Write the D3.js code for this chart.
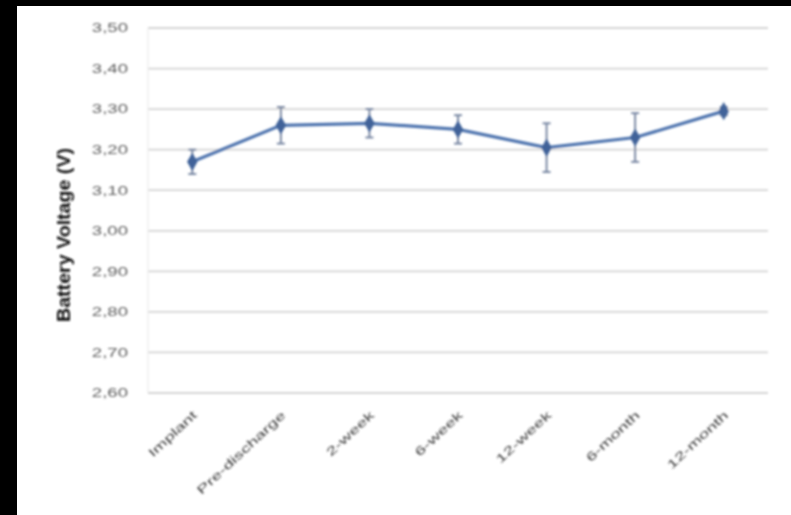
<!DOCTYPE html>
<html>
<head>
<meta charset="utf-8">
<script src="https://cdn.jsdelivr.net/npm/d3@7"></script>
<style>
  html, body { margin: 0; padding: 0; background: #000; }
  svg { display: block; }
</style>
</head>
<body>
<svg id="chart" width="791" height="515"></svg>
<script>
// Battery voltage over follow-up (mean ± SD)
const categories = ["Implant", "Pre-discharge", "2-week", "6-week", "12-week", "6-month", "12-month"];
const voltage = [3.17, 3.26, 3.265, 3.25, 3.205, 3.23, 3.295];
const voltageSD = [0.03, 0.045, 0.035, 0.035, 0.06, 0.06, 0.01];
const yTicks = [2.6, 2.7, 2.8, 2.9, 3.0, 3.1, 3.2, 3.3, 3.4, 3.5];
const yTitle = "Battery Voltage (V)";

const svg = d3.select("#chart");

// soft focus applied to the whole figure
const defs = svg.append("defs");
defs.append("filter").attr("id", "soft")
  .attr("x", "-5%").attr("y", "-5%").attr("width", "110%").attr("height", "110%")
  .append("feGaussianBlur").attr("stdDeviation", 1.2);

// white page on black frame
svg.append("rect").attr("x", 17).attr("y", 6).attr("width", 774).attr("height", 509).attr("fill", "#fff");

const g = svg.append("g").attr("filter", "url(#soft)");

const plot = { left: 148, right: 768, top: 28, bottom: 393 };

const x = d3.scalePoint().domain(categories).range([plot.left, plot.right]).padding(0.5);
const y = d3.scaleLinear().domain([2.6, 3.5]).range([plot.bottom, plot.top]);

const textStretch = 1.55;
const fmt = v => d3.format(".2f")(v).replace(".", ",");

// horizontal gridlines
g.append("g").selectAll("line").data(yTicks.filter(v => v > 2.6)).join("line")
  .attr("x1", plot.left).attr("x2", plot.right)
  .attr("y1", d => y(d)).attr("y2", d => y(d))
  .attr("stroke", "#d4d4d4").attr("stroke-width", 1.8);

// faint left edge of the plot area
g.append("line").attr("x1", plot.left).attr("x2", plot.left)
  .attr("y1", plot.top).attr("y2", plot.bottom)
  .attr("stroke", "#ececec").attr("stroke-width", 1.2);

// y axis
const yAxis = g.append("g").attr("transform", `translate(${plot.left},0)`)
  .call(d3.axisLeft(y).tickValues(yTicks).tickFormat(fmt).tickSize(0).tickPadding(20));
yAxis.select(".domain").remove();
yAxis.selectAll("text")
  .attr("font-family", "'Liberation Sans', Arial, sans-serif")
  .attr("font-size", 12).attr("fill", "#5e5e5e")
  .attr("x", null)
  .attr("transform", `translate(-20,0) scale(${textStretch},1)`);

// x axis
const xAxis = g.append("g").attr("transform", `translate(0,${plot.bottom})`)
  .call(d3.axisBottom(x).tickSize(0).tickPadding(0));
xAxis.select(".domain").attr("stroke", "#d4d4d4").attr("stroke-width", 1.8)
  .attr("d", `M${plot.left},0H${plot.right}`);
xAxis.selectAll("text")
  .attr("font-family", "'Liberation Sans', Arial, sans-serif")
  .attr("font-size", 12).attr("fill", "#3c3c3c")
  .attr("text-anchor", "end")
  .attr("y", null).attr("dy", "0.35em")
  .attr("transform", `translate(2,20) rotate(-43) scale(${textStretch},1)`);

// y title
g.append("text")
  .attr("transform", "translate(70,235) rotate(-90)")
  .attr("text-anchor", "middle")
  .attr("font-family", "'Liberation Sans', Arial, sans-serif")
  .attr("font-weight", "bold").attr("font-size", 19).attr("fill", "#111")
  .attr("textLength", 174).attr("lengthAdjust", "spacingAndGlyphs")
  .text(yTitle);

const data = categories.map((c, i) => ({ c, v: voltage[i], sd: voltageSD[i] }));

// error bars
const eb = g.append("g").attr("stroke", "#6f7f9c").attr("stroke-width", 1.8);
eb.selectAll("line.stem").data(data).join("line").attr("class", "stem")
  .attr("x1", d => x(d.c)).attr("x2", d => x(d.c))
  .attr("y1", d => y(d.v + d.sd)).attr("y2", d => y(d.v - d.sd));
eb.selectAll("line.capTop").data(data).join("line").attr("class", "capTop")
  .attr("x1", d => x(d.c) - 4).attr("x2", d => x(d.c) + 4)
  .attr("y1", d => y(d.v + d.sd)).attr("y2", d => y(d.v + d.sd));
eb.selectAll("line.capBot").data(data).join("line").attr("class", "capBot")
  .attr("x1", d => x(d.c) - 4).attr("x2", d => x(d.c) + 4)
  .attr("y1", d => y(d.v - d.sd)).attr("y2", d => y(d.v - d.sd));

// series line
g.append("path").datum(data)
  .attr("fill", "none").attr("stroke", "#4d73ae").attr("stroke-width", 3.2)
  .attr("d", d3.line().x(d => x(d.c)).y(d => y(d.v)));

// diamond markers
g.selectAll("path.marker").data(data).join("path").attr("class", "marker")
  .attr("transform", d => `translate(${x(d.c)},${y(d.v)})`)
  .attr("d", d3.symbol(d3.symbolDiamond, 95))
  .attr("fill", "#3f6299");
</script>
</body>
</html>
